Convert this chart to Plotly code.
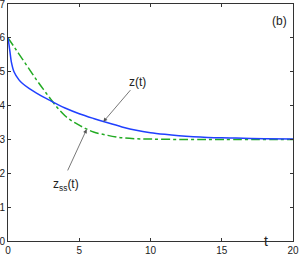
import plotly.graph_objects as go

# z(t) - blue solid
t_z = [0, 0.07, 0.14, 0.23, 0.42, 0.77, 1, 1.5, 2, 2.5, 3, 3.5, 4, 5, 6, 7, 8, 9, 10, 11, 12, 13, 14, 15, 16, 18, 20]
z_vals = [6.0, 5.8, 5.58, 5.3, 5.0, 4.76, 4.66, 4.5, 4.37, 4.25, 4.14, 4.03, 3.93, 3.76, 3.62, 3.49, 3.37, 3.27, 3.2, 3.15, 3.11, 3.08, 3.06, 3.05, 3.04, 3.02, 3.01]

# z_ss(t) - green dash-dot
t_zss = [0, 0.5, 1, 1.5, 2, 2.5, 3, 3.5, 4, 4.5, 5, 5.5, 6, 7, 8, 9, 10, 12, 15, 20]
zss_vals = [6.0, 5.69, 5.38, 5.07, 4.76, 4.47, 4.19, 3.92, 3.7, 3.54, 3.42, 3.31, 3.22, 3.12, 3.05, 3.02, 3.01, 3.0, 3.0, 3.0]

x_ticks = [0, 5, 10, 15, 20]
y_ticks = [0, 1, 2, 3, 4, 5, 6, 7]

FONT = "Liberation Sans, Arial, sans-serif"

fig = go.Figure()
fig.add_trace(go.Scatter(x=t_zss, y=zss_vals, mode="lines", line=dict(color="#22aa22", width=1.5, dash="dashdot", shape="spline"), showlegend=False))
fig.add_trace(go.Scatter(x=t_z, y=z_vals, mode="lines", line=dict(color="#2040ff", width=1.5, shape="spline", smoothing=0.8), showlegend=False))

axis_common = dict(showgrid=False, zeroline=False, showline=True, linecolor="#333", linewidth=1,
                   mirror="ticks", ticks="inside", ticklen=3, tickcolor="#333", automargin=False,
                   ticklabeloverflow="allow",
                   tickfont=dict(family=FONT, size=10, color="#222"))

fig.update_xaxes(range=[0, 20], tickvals=x_ticks, ticktext=[str(v) for v in x_ticks], ticklabelstandoff=0, **axis_common)
fig.update_yaxes(range=[0, 7], tickvals=y_ticks, ticktext=[str(v) for v in y_ticks], ticklabelstandoff=0, **axis_common)

annots = [
    # arrows only
    dict(x=6.69, y=3.52, ax=8.68, ay=4.50, axref="x", ayref="y", xref="x", yref="y", text="",
         showarrow=True, arrowhead=2, arrowsize=1, arrowwidth=0.8, arrowcolor="#555"),
    dict(x=5.52, y=3.30, ax=4.14, ay=2.04, axref="x", ayref="y", xref="x", yref="y", text="",
         showarrow=True, arrowhead=2, arrowsize=1, arrowwidth=0.8, arrowcolor="#555"),
    # labels
    dict(x=9.12, y=4.69, xref="x", yref="y", text="z(t)", showarrow=False,
         font=dict(family=FONT, size=12, color="#222")),
    dict(x=4.07, y=1.65, xref="x", yref="y", text="z<sub>ss</sub>(t)", showarrow=False,
         font=dict(family=FONT, size=12, color="#222")),
    dict(x=19.02, y=6.49, xref="x", yref="y", text="(b)", showarrow=False,
         font=dict(family=FONT, size=12, color="#222")),
    dict(x=18.1, y=-0.042, xref="x", yref="paper", text="t", showarrow=False,
         font=dict(family=FONT, size=14, color="#222")),
]
fig.update_layout(width=300, height=259, margin=dict(l=8, r=7, t=4, b=18, autoexpand=False),
                  paper_bgcolor="white", plot_bgcolor="white", annotations=annots)

fig.write_html("out.html", config={"displayModeBar": False},
               post_script="document.body.style.margin='0';document.body.style.overflow='hidden';")
